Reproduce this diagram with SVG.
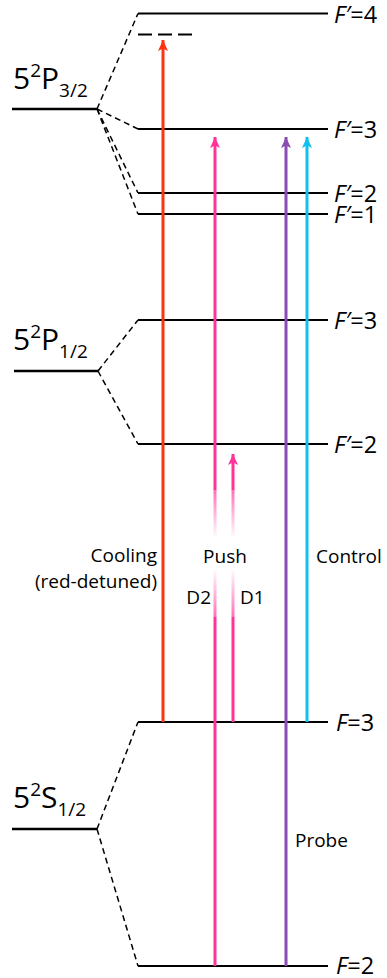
<svg xmlns="http://www.w3.org/2000/svg" width="387" height="978" viewBox="0 0 387 978">
<defs>
<style>
.lvl{stroke:#000;stroke-width:2.6}
.hf{stroke:#000;stroke-width:2.2}
.dash{stroke:#000;stroke-width:1.5;stroke-dasharray:6 4;fill:none}
.t{font-family:"Open Sans","Liberation Sans",sans-serif;fill:#000}
.big{font-size:30px}
.hfl{font-size:23.5px}
.sup{font-size:19px}
.sm{font-size:19px}
.it{font-style:italic}
.beam{stroke-width:3;fill:none}
</style>
<marker id="mRed" markerUnits="userSpaceOnUse" markerWidth="12" markerHeight="12" refX="11" refY="5" orient="auto"><path d="M0,0 L11,5 L0,10 L2.5,5 Z" fill="#FF3311"/></marker>
<marker id="mPink" markerUnits="userSpaceOnUse" markerWidth="12" markerHeight="12" refX="11" refY="5" orient="auto"><path d="M0,0 L11,5 L0,10 L2.5,5 Z" fill="#FF3399"/></marker>
<marker id="mPurple" markerUnits="userSpaceOnUse" markerWidth="12" markerHeight="12" refX="11" refY="5" orient="auto"><path d="M0,0 L11,5 L0,10 L2.5,5 Z" fill="#8A4DB5"/></marker>
<marker id="mCyan" markerUnits="userSpaceOnUse" markerWidth="12" markerHeight="12" refX="11" refY="5" orient="auto"><path d="M0,0 L11,5 L0,10 L2.5,5 Z" fill="#11BFF0"/></marker>
<linearGradient id="fade" x1="0" y1="0" x2="0" y2="1">
<stop offset="0" stop-color="#fff" stop-opacity="0.3"/>
<stop offset="0.38" stop-color="#fff" stop-opacity="1"/>
<stop offset="0.62" stop-color="#fff" stop-opacity="1"/>
<stop offset="1" stop-color="#fff" stop-opacity="0.3"/>
</linearGradient>
</defs>

<g id="P32">
<line class="lvl" x1="12" y1="109" x2="97" y2="109"/>
<text class="t big" x="13" y="89">5<tspan class="sup" dy="-12">2</tspan><tspan dy="12">P</tspan><tspan class="sup" dy="8">3/2</tspan></text>
</g>
<g id="P32_F4">
<line class="hf" x1="138" y1="13.5" x2="328" y2="13.5"/>
<text class="t hfl" x="334" y="22.5"><tspan class="it">F′</tspan>=4</text>
</g>
<g id="P32_F3">
<line class="hf" x1="138" y1="129" x2="328" y2="129"/>
<text class="t hfl" x="334" y="137.5"><tspan class="it">F′</tspan>=3</text>
</g>
<g id="P32_F2">
<line class="hf" x1="138" y1="193" x2="328" y2="193"/>
<text class="t hfl" x="334" y="201.5"><tspan class="it">F′</tspan>=2</text>
</g>
<g id="P32_F1">
<line class="hf" x1="138" y1="214" x2="328" y2="214"/>
<text class="t hfl" x="334" y="222.5"><tspan class="it">F′</tspan>=1</text>
</g>
<g id="detuned">
<line x1="138" y1="34.5" x2="192" y2="34.5" stroke="#000" stroke-width="2" stroke-dasharray="14 6"/>
</g>

<g id="P12">
<line class="lvl" x1="14" y1="371" x2="98" y2="371"/>
<text class="t big" x="13" y="350">5<tspan class="sup" dy="-12">2</tspan><tspan dy="12">P</tspan><tspan class="sup" dy="8">1/2</tspan></text>
</g>
<g id="P12_F3">
<line class="hf" x1="138" y1="320" x2="328" y2="320"/>
<text class="t hfl" x="334" y="328.5"><tspan class="it">F′</tspan>=3</text>
</g>
<g id="P12_F2">
<line class="hf" x1="138" y1="444" x2="328" y2="444"/>
<text class="t hfl" x="334" y="452.5"><tspan class="it">F′</tspan>=2</text>
</g>

<g id="S12">
<line class="lvl" x1="12" y1="829" x2="97" y2="829"/>
<text class="t big" x="13" y="808">5<tspan class="sup" dy="-12">2</tspan><tspan dy="12">S</tspan><tspan class="sup" dy="8">1/2</tspan></text>
</g>
<g id="S12_F3">
<line class="hf" x1="138" y1="722" x2="328" y2="722"/>
<text class="t hfl" x="336" y="730.5"><tspan class="it">F</tspan>=3</text>
</g>
<g id="S12_F2">
<line class="hf" x1="138" y1="966" x2="328" y2="966"/>
<text class="t hfl" x="336" y="973.5"><tspan class="it">F</tspan>=2</text>
</g>

<g id="connectors">
<path class="dash" d="M97,109 L138,13.5 M97,109 L138,129 M97,109 L138,193 M97,109 L138,214"/>
<path class="dash" d="M98,371 L138,320 M98,371 L138,444"/>
<path class="dash" d="M97,829 L138,722 M97,829 L138,966"/>
<line class="beam" stroke="#FF3311" x1="163" y1="722" x2="163" y2="40" marker-end="url(#mRed)"/>
<line class="beam" stroke="#FF3399" x1="215" y1="966" x2="215" y2="137" marker-end="url(#mPink)"/>
<line class="beam" stroke="#FF3399" x1="233" y1="722" x2="233" y2="454" marker-end="url(#mPink)"/>
<line class="beam" stroke="#8A4DB5" x1="286" y1="966" x2="286" y2="137" marker-end="url(#mPurple)"/>
<line class="beam" stroke="#11BFF0" x1="307" y1="722" x2="307" y2="137" marker-end="url(#mCyan)"/>
<rect x="212.5" y="490" width="5" height="127" fill="url(#fade)"/>
<rect x="230.5" y="490" width="5" height="127" fill="url(#fade)"/>
</g>

<g id="labels">
<text class="t sm" x="157" y="562" text-anchor="end">Cooling</text>
<text class="t sm" x="157" y="588" text-anchor="end">(red-detuned)</text>
<text class="t sm" x="225" y="563" text-anchor="middle">Push</text>
<text class="t sm" x="211" y="604" text-anchor="end">D2</text>
<text class="t sm" x="240" y="604">D1</text>
<text class="t sm" x="316" y="563">Control</text>
<text class="t sm" x="295" y="847">Probe</text>
</g>
</svg>
